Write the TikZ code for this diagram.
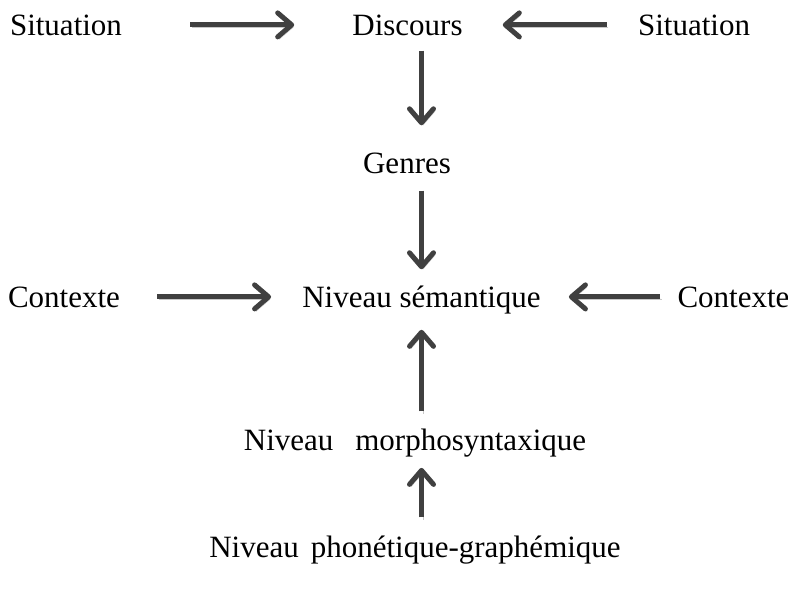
\documentclass[tikz,border=0pt]{standalone}
\usepackage{fontspec}
\setmainfont{Liberation Serif}
\usepackage{tikz}
\usetikzlibrary{calc,arrows.meta}
\usepackage{xcolor}
\definecolor{arrowgray}{RGB}{64,64,64}
\definecolor{shadowgray}{RGB}{200,200,200}

\tikzset{
    lbl/.style={inner sep=0pt, anchor=base, font=\fontsize{31}{36}\selectfont},
    bigarrow/.style={line width=5pt, draw=arrowgray,
        -{Straight Barb[length=14pt, width=24pt, round]},
        preaction={draw=shadowgray, transform canvas={shift={(1.5pt,-2.5pt)}}}}
}

\begin{document}
\begin{tikzpicture}[x=1pt, y=-1pt]
    \useasboundingbox (0,0) rectangle (788,592);

    % Draw the levels, top row first
    \node[lbl] (sitL) at (66,35) {Situation};
    \node[lbl] (disc) at (407.5,35) {Discours};
    \node[lbl] (sitR) at (694,35) {Situation};
    \node[lbl] (gen) at (407,173) {Genres};
    \node[lbl] (ctxL) at (64,307) {Contexte};
    \node[lbl] (sem) at (421.5,307) {Niveau sémantique};
    \node[lbl] (ctxR) at (733.5,307) {Contexte};
    \node[lbl] (morph) at (415,450) {Niveau\hspace{22pt}morphosyntaxique};
    \node[lbl] (phon) at (415,557) {Niveau\hspace{12pt}phonétique-graphémique};

    % Draw the horizontal arrows into Discours and Niveau semantique
    \foreach \a/\b/\s/\t in {sitL.east/disc.west/68/58, sitR.west/disc.east/31/40,
                             ctxL.east/sem.west/37/31, ctxR.west/sem.east/17/28} {
        \draw[bigarrow, shorten <=\s pt, shorten >=\t pt] (\a) -- (\a -| \b);
    }

    % Draw the vertical arrows on the axis of Niveau semantique
    \foreach \a/\b/\s/\t in {disc.south/gen.north/15/27, gen.south/sem.north/17/16,
                             morph.north/sem.south/17/16, phon.north/morph.south/18/11} {
        \draw[bigarrow, shorten <=\s pt, shorten >=\t pt] (sem |- \a) -- (sem |- \b);
    }

\end{tikzpicture}
\end{document}
